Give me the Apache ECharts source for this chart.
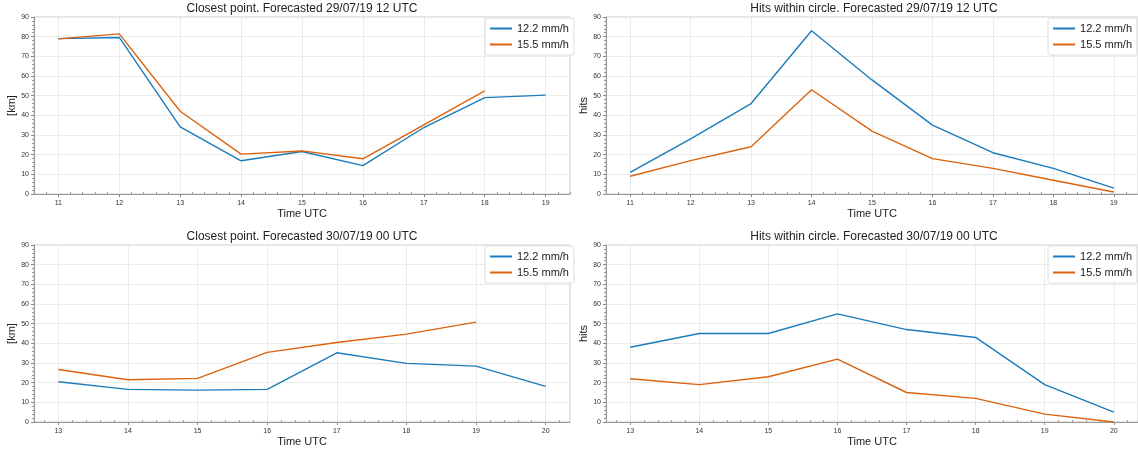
<!DOCTYPE html>
<html>
<head>
<meta charset="utf-8">
<script src="https://cdn.jsdelivr.net/npm/echarts@6/dist/echarts.min.js"></script>
<style>
html,body{margin:0;padding:0;background:#fff;}
#myChart{width:1138px;height:451px;}
</style>
</head>
<body>
<div id="myChart"></div>
<script>
// data
var seriesNames = ['12.2 mm/h', '15.5 mm/h'];
var hoursTop = [11, 12, 13, 14, 15, 16, 17, 18, 19];
var hoursBottom = [13, 14, 15, 16, 17, 18, 19, 20];

var closestTopBlue = [79, 79.6, 34.1, 16.9, 21.6, 14.4, 33.8, 49.0, 50.3];
var closestTopOrange = [78.9, 81.4, 42.1, 20.3, 21.9, 17.9, 35.2, 52.4];
var hitsTopBlue = [11, 28, 46, 83, 58, 35, 21, 13, 3];
var hitsTopOrange = [9, 17, 24, 53, 32, 18, 13, 7, 1];

var closestBottomBlue = [20.5, 16.6, 16.2, 16.6, 35.2, 29.8, 28.4, 18.1];
var closestBottomOrange = [26.7, 21.5, 22.2, 35.4, 40.4, 44.7, 50.8];
var hitsBottomBlue = [38, 45, 45, 55, 47, 43, 19, 5];
var hitsBottomOrange = [22, 19, 23, 32, 15, 12, 4, 0];

var titles = [
  'Closest point. Forecasted 29/07/19 12 UTC',
  'Hits within circle. Forecasted 29/07/19 12 UTC',
  'Closest point. Forecasted 30/07/19 00 UTC',
  'Hits within circle. Forecasted 30/07/19 00 UTC'
];
var yNames = ['[km]', 'hits', '[km]', 'hits'];

var blue = '#1b7cbb';
var orange = '#dc620e';

function pairs(xs, ys) {
  return ys.map(function (v, i) { return [xs[i], v]; });
}
function minorVals(xs) {
  var out = [];
  for (var i = xs[0] - 1; i <= xs[xs.length - 1] + 1; i++) {
    for (var k = 1; k < 5; k++) out.push(i + k * 0.2);
  }
  return out;
}

var panels = [
  {left: 34, top: 17, hours: hoursTop, a: closestTopBlue, b: closestTopOrange},
  {left: 606, top: 17, hours: hoursTop, a: hitsTopBlue, b: hitsTopOrange},
  {left: 34, top: 245, hours: hoursBottom, a: closestBottomBlue, b: closestBottomOrange},
  {left: 606, top: 245, hours: hoursBottom, a: hitsBottomBlue, b: hitsBottomOrange}
];

var font = 'Liberation Sans, Arial, sans-serif';
var grids = [], xAxes = [], yAxes = [], series = [], titleOpt = [], legends = [];

panels.forEach(function (p, i) {
  var span = p.hours[p.hours.length - 1] - p.hours[0];
  var xmin = p.hours[0] - span * 0.05;
  var xmax = p.hours[p.hours.length - 1] + span * 0.05;
  grids.push({left: p.left, top: p.top, width: 536, height: 177, show: true,
    borderColor: '#c8c8c8', borderWidth: 1, backgroundColor: 'transparent'});
  // main x axis
  xAxes.push({
    type: 'value', gridIndex: i, min: xmin, max: xmax,
    name: 'Time UTC', nameLocation: 'middle', nameGap: 14,
    nameTextStyle: {fontSize: 11, color: '#222', fontFamily: font},
    axisLine: {show: true, onZero: false, lineStyle: {color: '#999'}},
    axisTick: {show: true, length: 3, customValues: p.hours, lineStyle: {color: '#888'}},
    axisLabel: {customValues: p.hours, fontSize: 7, color: '#333', margin: 6, fontFamily: font},
    splitLine: {show: true, lineStyle: {color: '#ebebeb'}}
  });
  // minor ticks
  xAxes.push({
    type: 'value', gridIndex: i, min: xmin, max: xmax,
    axisLine: {show: false},
    axisTick: {show: true, length: 2, customValues: minorVals(p.hours), lineStyle: {color: '#999'}},
    axisLabel: {show: false},
    splitLine: {show: false}
  });
  yAxes.push({
    type: 'value', gridIndex: i, min: 0, max: 90, interval: 10,
    name: yNames[i], nameLocation: 'middle', nameGap: 17,
    nameTextStyle: {fontSize: 11, color: '#222', fontFamily: font},
    axisLine: {show: true, lineStyle: {color: '#999'}},
    axisTick: {show: true, length: 3, lineStyle: {color: '#888'}},
    minorTick: {show: true, splitNumber: 5, length: 2, lineStyle: {color: '#999'}},
    axisLabel: {fontSize: 7, color: '#333', margin: 5, fontFamily: font},
    splitLine: {show: true, lineStyle: {color: '#ebebeb'}}
  });
  series.push({name: seriesNames[0], type: 'line', xAxisIndex: i * 2, yAxisIndex: i,
    data: pairs(p.hours, p.a), symbol: 'none', lineStyle: {color: blue, width: 1.4},
    itemStyle: {color: blue}, animation: false});
  series.push({name: seriesNames[1], type: 'line', xAxisIndex: i * 2, yAxisIndex: i,
    data: pairs(p.hours, p.b), symbol: 'none', lineStyle: {color: orange, width: 1.4},
    itemStyle: {color: orange}, animation: false});
  titleOpt.push({text: titles[i], left: p.left + 268, top: p.top - 14, textAlign: 'center',
    padding: 0,
    textStyle: {fontSize: 12, fontWeight: 'normal', color: '#222', fontFamily: font}});
  var lg = {data: seriesNames, orient: 'vertical', top: p.top + 1,
    backgroundColor: '#fff', borderColor: '#ddd', borderWidth: 1, borderRadius: 2,
    padding: [5, 5, 5, 5], itemGap: 5, itemWidth: 22, itemHeight: 2, icon: 'rect',
    textStyle: {fontSize: 11, color: '#222', fontFamily: font, padding: [0, 0, 0, 0]}};
  if (p.left > 500) { lg.right = 1; } else { lg.left = p.left + 451; }
  legends.push(lg);
});

var myChart = echarts.init(document.getElementById('myChart'), null, {renderer: 'canvas'});
myChart.setOption({
  animation: false,
  title: titleOpt,
  legend: legends,
  grid: grids,
  xAxis: xAxes,
  yAxis: yAxes,
  series: series
});
</script>
</body>
</html>
